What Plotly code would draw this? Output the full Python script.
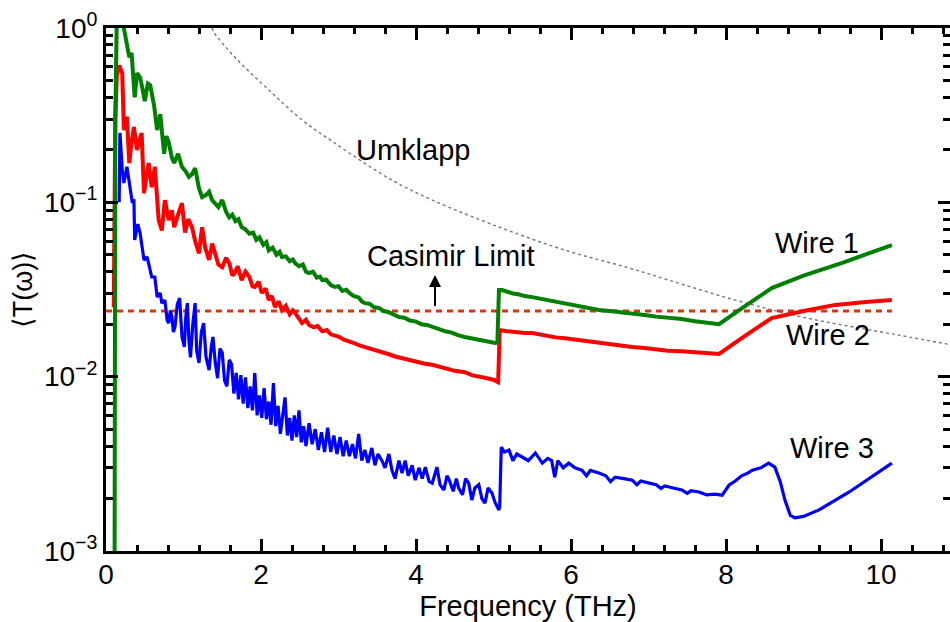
import math
import plotly.graph_objects as go

# ---------------- data ----------------
wire1_f = [0.11, 0.12, 0.14, 0.20, 0.23, 0.27, 0.30, 0.33, 0.37, 0.40, 0.44, 0.47, 0.50, 0.54, 0.57,
           0.62, 0.66, 0.70, 0.75, 0.78, 0.81, 0.85, 0.88, 0.93, 0.98, 1.03, 1.07, 1.11, 1.15, 1.20,
           1.24, 1.29, 1.33, 1.37, 1.41, 1.45, 1.50, 1.55, 1.59, 1.63, 1.67, 1.71, 1.75, 1.80, 1.85,
           1.90, 1.94, 1.98, 2.03, 2.07, 2.10, 2.15, 2.20, 2.24, 2.27, 2.32, 2.37, 2.41, 2.44, 2.49,
           2.54, 2.58, 2.62, 2.67, 2.72, 2.76, 2.79, 2.84, 2.90, 2.95, 3.00, 3.05, 3.10, 3.14, 3.20,
           3.26, 3.30, 3.34, 3.40, 3.46, 3.52, 3.58, 3.64, 3.70, 3.78, 3.85, 3.92, 4.00, 4.07, 4.14,
           4.21, 4.30, 4.38, 4.46, 4.54, 4.63, 4.72, 4.80, 4.88, 4.96, 5.02, 5.05, 5.07, 5.11, 5.18,
           5.25, 5.32, 5.40, 5.50, 5.60, 5.70, 5.80, 5.92, 6.04, 6.16, 6.26, 6.36, 6.50, 6.64, 6.79,
           6.95, 7.10, 7.25, 7.43, 7.60, 7.75, 7.91, 8.25, 8.59, 9.00, 9.50, 10.14]
wire1_T = [0.0005, 0.3, 1.2, 1.2, 1.0, 0.80, 0.68, 0.72, 0.40, 0.55, 0.52, 0.45, 0.38, 0.48, 0.47,
           0.36, 0.26, 0.32, 0.19, 0.24, 0.22, 0.18, 0.168, 0.19, 0.16, 0.15, 0.14, 0.145, 0.157, 0.12,
           0.107, 0.11, 0.115, 0.103, 0.099, 0.094, 0.103, 0.088, 0.082, 0.085, 0.078, 0.080, 0.072, 0.070, 0.066,
           0.067, 0.061, 0.063, 0.057, 0.059, 0.053, 0.055, 0.050, 0.052, 0.0486, 0.049, 0.046, 0.047, 0.0448, 0.043,
           0.044, 0.040, 0.0393, 0.040, 0.037, 0.0375, 0.0358, 0.036, 0.0335, 0.0327, 0.033, 0.031, 0.0315, 0.0302, 0.029,
           0.0285, 0.027, 0.0264, 0.0262, 0.025, 0.0248, 0.0238, 0.0235, 0.0228, 0.0220, 0.0218, 0.021, 0.0207, 0.0200, 0.0198,
           0.0193, 0.0188, 0.0182, 0.0179, 0.0173, 0.0169, 0.0166, 0.0162, 0.0160, 0.0157, 0.0156, 0.0157, 0.0314, 0.0314, 0.0305,
           0.0300, 0.0297, 0.0290, 0.0286, 0.0280, 0.0275, 0.0268, 0.0264, 0.0258, 0.0251, 0.0246, 0.0241, 0.0238, 0.0235, 0.0232,
           0.0226, 0.0221, 0.0218, 0.0214, 0.0208, 0.0204, 0.0200, 0.0255, 0.0322, 0.0380, 0.0450, 0.0569]

wire2_f = [0.10, 0.12, 0.14, 0.17, 0.21, 0.23, 0.27, 0.30, 0.33, 0.36, 0.40, 0.43, 0.46, 0.49, 0.52,
           0.55, 0.59, 0.63, 0.68, 0.72, 0.76, 0.81, 0.85, 0.88, 0.93, 0.98, 1.02, 1.06, 1.11, 1.15,
           1.20, 1.24, 1.28, 1.33, 1.37, 1.41, 1.45, 1.50, 1.55, 1.59, 1.63, 1.66, 1.70, 1.75, 1.80,
           1.85, 1.89, 1.92, 1.97, 2.01, 2.06, 2.10, 2.14, 2.18, 2.23, 2.27, 2.32, 2.37, 2.41, 2.44,
           2.49, 2.53, 2.58, 2.62, 2.68, 2.73, 2.79, 2.85, 2.90, 2.95, 3.00, 3.07, 3.14, 3.20, 3.27,
           3.34, 3.42, 3.50, 3.58, 3.66, 3.72, 3.78, 3.86, 3.94, 4.02, 4.10, 4.21, 4.30, 4.40, 4.50,
           4.63, 4.72, 4.82, 4.92, 5.00, 5.06, 5.08, 5.15, 5.22, 5.30, 5.40, 5.50, 5.60, 5.70, 5.80,
           5.92, 6.05, 6.20, 6.36, 6.50, 6.65, 6.79, 6.95, 7.10, 7.25, 7.43, 7.60, 7.75, 7.91, 8.25,
           8.59, 9.00, 9.41, 9.80, 10.14]
wire2_T = [0.025, 0.30, 0.54, 0.61, 0.55, 0.26, 0.31, 0.168, 0.22, 0.27, 0.20, 0.22, 0.25, 0.113, 0.14,
           0.168, 0.122, 0.16, 0.079, 0.069, 0.103, 0.079, 0.09, 0.072, 0.085, 0.099, 0.067, 0.08, 0.072, 0.06,
           0.051, 0.072, 0.055, 0.0467, 0.058, 0.051, 0.044, 0.0425, 0.048, 0.0448, 0.038, 0.0393, 0.043, 0.0358, 0.040,
           0.0373, 0.033, 0.0327, 0.035, 0.0302, 0.032, 0.0275, 0.029, 0.0251, 0.027, 0.0241, 0.0255, 0.0228, 0.024, 0.0232,
           0.0215, 0.0203, 0.0212, 0.0198, 0.0192, 0.0195, 0.0182, 0.0185, 0.0175, 0.0173, 0.0170, 0.0163, 0.0160, 0.0156, 0.0151,
           0.0148, 0.0145, 0.0140, 0.0137, 0.0134, 0.0131, 0.0129, 0.0126, 0.0123, 0.0121, 0.0119, 0.0117, 0.0114, 0.0111, 0.0108,
           0.0106, 0.0102, 0.0100, 0.0098, 0.0096, 0.0093, 0.0185, 0.0183, 0.0181, 0.0180, 0.0178, 0.0178, 0.0174, 0.0171, 0.0168,
           0.0166, 0.0163, 0.0159, 0.0156, 0.0153, 0.0150, 0.0148, 0.0146, 0.0143, 0.0141, 0.0140, 0.0138, 0.0136, 0.0135, 0.0172,
           0.0217, 0.0238, 0.0258, 0.0268, 0.0275]

wire3_f = [0.17, 0.18, 0.21, 0.23, 0.27, 0.31, 0.34, 0.36, 0.37, 0.41, 0.44, 0.49, 0.53, 0.59, 0.63,
           0.66, 0.70, 0.72,
           0.76, 0.79, 0.81, 0.83, 0.85, 0.87, 0.89, 0.92, 0.95, 0.98, 1.01, 1.03, 1.05, 1.07, 1.09,
           1.12, 1.15, 1.17, 1.20, 1.23, 1.26, 1.29, 1.33, 1.36, 1.38, 1.41, 1.44, 1.47, 1.50, 1.53,
           1.56, 1.59, 1.62, 1.65, 1.68, 1.71, 1.74, 1.77, 1.80, 1.83, 1.86, 1.89, 1.92, 1.95, 1.98,
           2.01, 2.04, 2.07, 2.10, 2.13, 2.16, 2.19, 2.22, 2.25, 2.28, 2.31, 2.34, 2.37, 2.40, 2.43,
           2.46, 2.49, 2.52, 2.55, 2.58, 2.62, 2.66, 2.70, 2.74, 2.78, 2.82, 2.86, 2.90, 2.94, 2.98,
           3.02, 3.06, 3.10, 3.14, 3.18, 3.22, 3.26, 3.30, 3.34, 3.38, 3.43, 3.47, 3.51, 3.56, 3.60,
           3.65, 3.69, 3.73, 3.78, 3.82, 3.86, 3.90, 3.95, 3.99, 4.04, 4.08, 4.12, 4.17, 4.21, 4.27,
           4.31, 4.36, 4.40, 4.43, 4.48, 4.52, 4.55, 4.60, 4.64, 4.68, 4.72, 4.76, 4.81, 4.85, 4.89,
           4.93, 4.98, 5.02, 5.07,
           5.08, 5.10, 5.14, 5.20, 5.25, 5.30, 5.37, 5.45, 5.54, 5.63, 5.70, 5.75, 5.79, 5.83, 5.90,
           5.97, 6.05, 6.14, 6.20, 6.25, 6.36, 6.45, 6.51, 6.57, 6.68, 6.79, 6.85, 6.90, 7.01, 7.10,
           7.16, 7.21, 7.32, 7.43, 7.50, 7.55, 7.65, 7.75, 7.86, 7.95, 8.04, 8.12, 8.20, 8.27, 8.34,
           8.45, 8.55, 8.63, 8.70, 8.76, 8.83, 8.89, 9.00, 9.20, 9.59, 10.14]
wire3_T = [0.10, 0.25, 0.153, 0.129, 0.16, 0.12, 0.099, 0.104, 0.0608, 0.075, 0.0667, 0.0467, 0.0486, 0.0373, 0.0373,
           0.0286, 0.0302, 0.0264,
           0.0275, 0.021, 0.0203, 0.024, 0.0220, 0.018, 0.0193, 0.026, 0.0282, 0.017, 0.0148, 0.022, 0.0264, 0.016, 0.0129,
           0.020, 0.0264, 0.014, 0.0120, 0.018, 0.0203, 0.013, 0.0109, 0.015, 0.0169, 0.012, 0.0098, 0.0145, 0.0137, 0.0095,
           0.0088, 0.0125, 0.0118, 0.0080, 0.0105, 0.0074, 0.0102, 0.0070, 0.0099, 0.0066, 0.0088, 0.0064, 0.0105, 0.0060, 0.0078,
           0.0058, 0.0086, 0.0057, 0.0072, 0.0053, 0.0092, 0.0052, 0.0068, 0.0047, 0.0062, 0.0076, 0.0046, 0.0058, 0.0043, 0.0060,
           0.0045, 0.0064, 0.0042, 0.0052, 0.0040, 0.0054, 0.0041, 0.0050, 0.0038, 0.0048, 0.0037, 0.0051, 0.0037, 0.0046, 0.0036,
           0.0045, 0.0035, 0.0043, 0.0035, 0.0041, 0.0034, 0.0047, 0.0033, 0.0038, 0.0032, 0.0039, 0.0031, 0.0036, 0.0033, 0.0030,
           0.0036, 0.0029, 0.0026, 0.0033, 0.0028, 0.0033, 0.0027, 0.0031, 0.00255, 0.0030, 0.0026, 0.00303, 0.0025, 0.00245, 0.00303,
           0.0024, 0.00224, 0.0027, 0.00255, 0.0022, 0.0026, 0.00230, 0.0021, 0.0026, 0.00245, 0.00196, 0.0023, 0.00240, 0.0020, 0.00188,
           0.0023, 0.00215, 0.0019, 0.00172,
           0.00180, 0.00394, 0.00370, 0.00379, 0.00330, 0.00360, 0.00346, 0.00330, 0.00365, 0.00319, 0.00340, 0.00330, 0.00265, 0.00330, 0.00300,
           0.00319, 0.00300, 0.00291, 0.00270, 0.00290, 0.00280, 0.00270, 0.00250, 0.00265, 0.00260, 0.00255, 0.00240, 0.00252, 0.00245, 0.00240,
           0.00228, 0.00236, 0.00230, 0.00224, 0.00214, 0.00222, 0.00218, 0.00210, 0.00212, 0.00209, 0.00239, 0.00252, 0.00270, 0.00278, 0.00291,
           0.00300, 0.00319, 0.00303, 0.00250, 0.00196, 0.00160, 0.00155, 0.00158, 0.00172, 0.00218, 0.00319]

umklapp_f = [1.37, 1.39, 1.66, 2.10, 2.53, 2.95, 3.69, 4.21, 5.07, 5.92, 6.75, 7.26, 8.12, 8.98, 10.23, 10.92]
umklapp_T = [1.0, 0.948, 0.682, 0.441, 0.297, 0.219, 0.134, 0.103, 0.0722, 0.0532, 0.042, 0.0358, 0.0275, 0.022, 0.0173, 0.0152]

casimir_f = [0.0, 10.14]
casimir_T = [0.0238, 0.0238]

x_ticks = [0, 2, 4, 6, 8, 10]
y_ticks = [1e-3, 1e-2, 1e-1, 1]
y_ticktext = ["10<sup>−3</sup>", "10<sup>−2</sup>", "10<sup>−1</sup>", "10<sup>0</sup>"]
y_minor = [m * 10.0 ** e for e in (-3, -2, -1) for m in (2, 3, 4, 5, 6, 7, 8, 9)]

FONT = "Arial, 'Liberation Sans', Helvetica, sans-serif"

fig = go.Figure()
fig.add_trace(go.Scatter(x=umklapp_f, y=umklapp_T, mode="lines",
                         line=dict(color="#777777", width=1.4, dash="dot", shape="spline"),
                         showlegend=False))
fig.add_trace(go.Scatter(x=casimir_f, y=casimir_T, mode="lines",
                         line=dict(color="#dd3311", width=3, dash="6px,5px"), showlegend=False))
fig.add_trace(go.Scatter(x=wire3_f, y=wire3_T, mode="lines",
                         line=dict(color="#0000ff", width=3.2), showlegend=False))
fig.add_trace(go.Scatter(x=wire2_f, y=wire2_T, mode="lines",
                         line=dict(color="#ff0000", width=4), showlegend=False))
fig.add_trace(go.Scatter(x=wire1_f, y=wire1_T, mode="lines",
                         line=dict(color="#008000", width=4), showlegend=False))


def ann(text, x, yval):
    fig.add_annotation(text=text, x=x, y=math.log10(yval), xref="x", yref="y",
                       showarrow=False, font=dict(family=FONT, size=29, color="black"))


ann("Umklapp", 3.96, 10 ** -0.70)
ann("Casimir Limit", 4.45, 10 ** -1.31)
ann("Wire 1", 9.17, 10 ** -1.234)
ann("Wire 2", 9.32, 10 ** -1.761)
ann("Wire 3", 9.37, 10 ** -2.41)

# arrow under "Casimir Limit"
fig.add_annotation(x=4.245, y=math.log10(0.0383), ax=4.245, ay=math.log10(0.0249),
                   xref="x", yref="y", axref="x", ayref="y", text="", showarrow=True,
                   arrowhead=2, arrowsize=1.2, arrowwidth=2, arrowcolor="black")

fig.update_layout(
    width=950, height=622,
    margin=dict(l=106, r=0, t=28, b=71, autoexpand=False),
    plot_bgcolor="white", paper_bgcolor="white",
    font=dict(family=FONT, size=28, color="black"),
    showlegend=False,
)
fig.update_xaxes(range=[0, 10.89], tickvals=x_ticks, ticks="inside", ticklen=12, tickwidth=2.5,
                 tickcolor="black", showline=True, linecolor="black", linewidth=3, mirror="ticks",
                 showgrid=False, zeroline=False, tickfont=dict(size=28), automargin=False,
                 ticklabelstandoff=-4,
                 minor=dict(ticks="inside", dtick=0.4, tick0=0, ticklen=6, tickwidth=2.5, tickcolor="black"),
                 title=dict(text="Frequency (THz)", font=dict(size=29), standoff=4))
fig.update_yaxes(type="log", range=[-3, 0], tickvals=y_ticks, ticktext=y_ticktext, ticks="inside",
                 ticklen=12, tickwidth=2.5, tickcolor="black", showline=True, linecolor="black",
                 linewidth=3, mirror="ticks", showgrid=False, zeroline=False, tickfont=dict(size=28),
                 automargin=False,
                 minor=dict(ticks="inside", tickvals=y_minor, ticklen=7, tickwidth=2.5, tickcolor="black"),
                 title=dict(text="⟨T(ω)⟩", font=dict(size=27), standoff=4))

fig.write_html("out.html", config={"displayModeBar": False},
               post_script="document.body.style.margin='0';document.body.style.overflow='hidden';")
